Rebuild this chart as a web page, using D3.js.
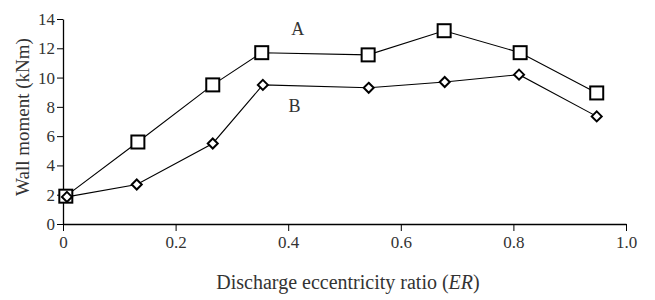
<!DOCTYPE html>
<html>
<head>
<meta charset="utf-8">
<script src="https://cdn.jsdelivr.net/npm/d3@7/dist/d3.min.js"></script>
<style>
  body { margin: 0; background: #fff; }
  svg { display: block; }
  text { font-family: "Liberation Serif", "DejaVu Serif", serif; }
</style>
</head>
<body>
<svg id="chart" width="655" height="300"></svg>
<script>
const erA = [0.005, 0.133, 0.266, 0.353, 0.542, 0.677, 0.812, 0.948];
const momentA = [1.9, 5.6, 9.5, 11.7, 11.55, 13.2, 11.7, 8.95];
const erB = [0.007, 0.131, 0.266, 0.355, 0.543, 0.678, 0.81, 0.948];
const momentB = [1.85, 2.7, 5.5, 9.5, 9.3, 9.7, 10.2, 7.35];
const xTicks = [0, 0.2, 0.4, 0.6, 0.8, 1.0];
const yTicks = [0, 2, 4, 6, 8, 10, 12, 14];
const seriesLabels = ["A", "B"];

const svg = d3.select("#chart");
const x = d3.scaleLinear().domain([0, 1]).range([63, 626]);
const y = d3.scaleLinear().domain([0, 14]).range([224, 19]);

const xAxis = svg.append("g").attr("transform", "translate(0,224)")
  .call(d3.axisBottom(x).tickValues(xTicks).tickFormat(d => d === 0 ? "0" : d3.format(".1f")(d)).tickSize(7).tickSizeOuter(0).tickPadding(5));
const yAxis = svg.append("g").attr("transform", "translate(63,0)")
  .call(d3.axisLeft(y).tickValues(yTicks).tickSize(6).tickSizeOuter(0).tickPadding(2));

[xAxis, yAxis].forEach(g => {
  g.select(".domain").attr("stroke", "#000").attr("stroke-width", 1.3);
  g.selectAll(".tick line").attr("stroke", "#000").attr("stroke-width", 1);
  g.selectAll(".tick text").attr("fill", "#333").style("font-family", "'Liberation Serif', serif").style("font-size", "17px");
});

const line = d3.line().x(d => x(d[0])).y(d => y(d[1]));
const dataA = erA.map((v, i) => [v, momentA[i]]);
const dataB = erB.map((v, i) => [v, momentB[i]]);

svg.append("path").attr("d", line(dataA)).attr("fill", "none").attr("stroke", "#000").attr("stroke-width", 1.1);
svg.append("path").attr("d", line(dataB)).attr("fill", "none").attr("stroke", "#000").attr("stroke-width", 1.1);

svg.selectAll("rect.mA").data(dataA).enter().append("rect")
  .attr("x", d => x(d[0]) - 6.5).attr("y", d => y(d[1]) - 6.5)
  .attr("width", 13).attr("height", 13)
  .attr("fill", "#fff").attr("stroke", "#000").attr("stroke-width", 2);

svg.selectAll("path.mB").data(dataB).enter().append("path")
  .attr("transform", d => `translate(${x(d[0])},${y(d[1])})`)
  .attr("d", "M0,-5L5,0L0,5L-5,0Z")
  .attr("fill", "#fff").attr("stroke", "#000").attr("stroke-width", 2);

svg.append("text").attr("x", x(0.417)).attr("y", 35).attr("text-anchor", "middle")
  .attr("fill", "#333").style("font-size", "18px").text(seriesLabels[0]);
svg.append("text").attr("x", x(0.411)).attr("y", 112).attr("text-anchor", "middle")
  .attr("fill", "#333").style("font-size", "18px").text(seriesLabels[1]);

svg.append("text").attr("transform", "translate(29,117) rotate(-90)").attr("text-anchor", "middle")
  .attr("fill", "#333").style("font-size", "19px").text("Wall moment (kNm)");

const xl = svg.append("text").attr("x", 348).attr("y", 289).attr("text-anchor", "middle")
  .attr("fill", "#333").style("font-size", "20px");
xl.append("tspan").text("Discharge eccentricity ratio (");
xl.append("tspan").style("font-style", "italic").text("ER");
xl.append("tspan").text(")");
</script>
</body>
</html>
